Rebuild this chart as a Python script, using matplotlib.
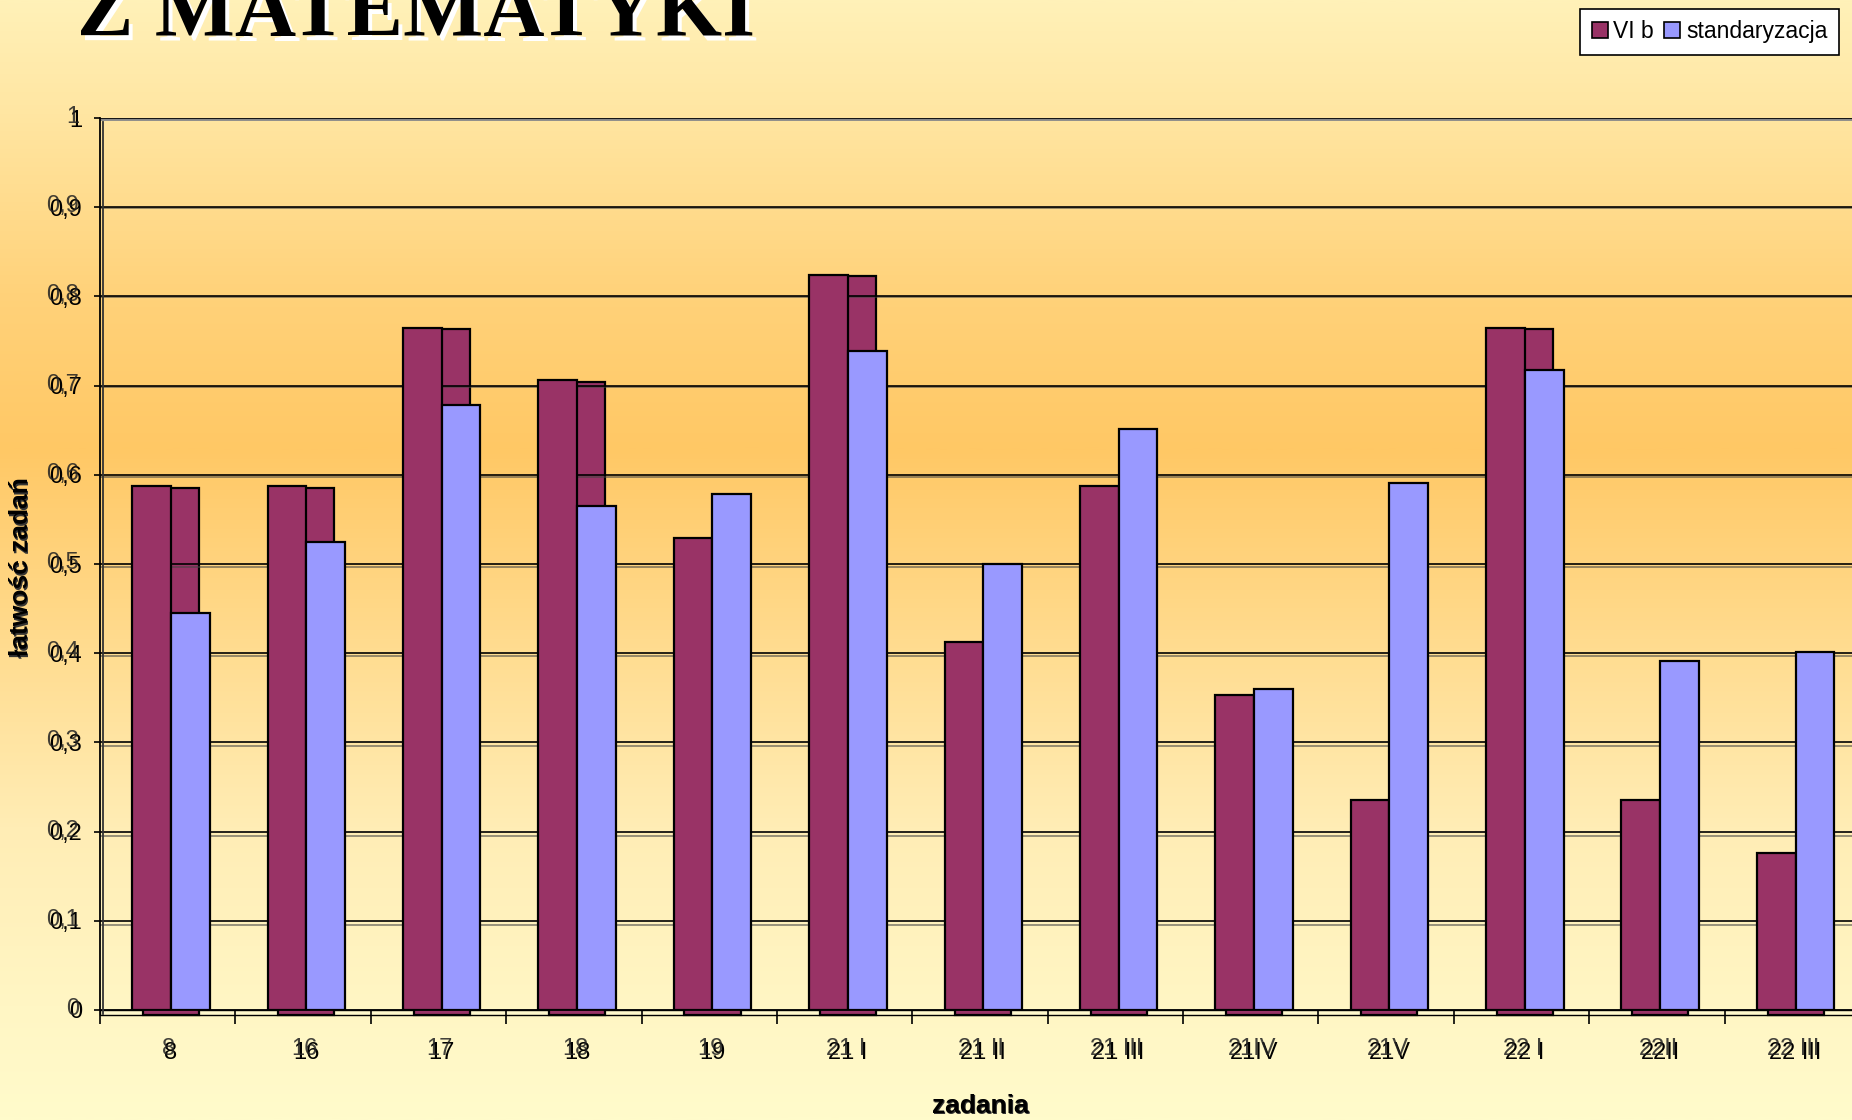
import numpy as np
import matplotlib
matplotlib.use("Agg")
import matplotlib.pyplot as plt
from matplotlib import font_manager as fm
from matplotlib.patches import Patch, Rectangle
import matplotlib.transforms as mtransforms
from matplotlib.colors import LinearSegmentedColormap

# ---------------- data ----------------
categories = ['8', '16', '17', '18', '19', '21 I', '21 II', '21 III',
              '21IV', '21V', '22 I', '22II', '22 III']
vi_b = [0.588, 0.588, 0.765, 0.706, 0.529, 0.824, 0.412, 0.588,
        0.353, 0.235, 0.765, 0.235, 0.176]
standaryzacja = [0.445, 0.525, 0.678, 0.565, 0.578, 0.739, 0.500, 0.651,
                 0.360, 0.591, 0.718, 0.391, 0.401]
series_names = ['VI b', 'standaryzacja']
yticks = [0, 0.1, 0.2, 0.3, 0.4, 0.5, 0.6, 0.7, 0.8, 0.9, 1.0]
ytick_labels = ['0', '0,1', '0,2', '0,3', '0,4', '0,5', '0,6', '0,7',
                '0,8', '0,9', '1']
title = 'Z MATEMATYKI'
ylabel = 'łatwość zadań'
xlabel = 'zadania'

# ---------------- style ----------------
MAROON = '#993366'
BLUE = '#9999FF'
names = {f.name for f in fm.fontManager.ttflist}
NARROW = 'Liberation Sans Narrow' if 'Liberation Sans Narrow' in names else 'Liberation Sans'
TICK_FS = 19 if NARROW == 'Liberation Sans Narrow' else 17

W, H, DPI = 1852, 1120, 100
fig = plt.figure(figsize=(W / DPI, H / DPI), dpi=DPI)

# background gradient
bg = fig.add_axes([0, 0, 1, 1], zorder=-10)
bg.axis('off')
cmap = LinearSegmentedColormap.from_list('bg', [
    (0.00, '#FFF1B8'), (0.10, '#FFE6A2'), (0.26, '#FFD27A'),
    (0.40, '#FFC865'), (0.58, '#FFDC90'), (0.74, '#FFEDB5'),
    (0.90, '#FFF6C4'), (1.00, '#FFFBCB')])
grad = np.linspace(0, 1, 512).reshape(-1, 1)
bg.imshow(grad, aspect='auto', cmap=cmap, extent=[0, 1, 0, 1], origin='upper')
bg.set_xlim(0, 1)
bg.set_ylim(0, 1)

# main axes
L, R, T, B = 100, 1860, 118, 1010
ax = fig.add_axes([L / W, (H - B) / H, (R - L) / W, (B - T) / H])
ax.set_facecolor('none')
ax.set_xlim(-0.5, len(categories) - 0.5)
ax.set_ylim(0, 1)

x = np.arange(len(categories))
shift = 0.024
bw = 0.286

# ghost (second, slightly offset copy of the chart)
def gfun(v):
    return (v * 897 - 5) / 892

g0 = gfun(0)
ax.add_patch(Rectangle((-0.5, g0), len(categories), -g0, facecolor='#FFF8CC',
                       edgecolor='black', lw=1.0, zorder=0.9, clip_on=False))
ax.bar(x + shift, [gfun(v) - g0 for v in vi_b], bottom=g0, width=0.414,
       color=MAROON, edgecolor='black', lw=1.6, zorder=1, clip_on=False)

# gridlines
for v in yticks[1:]:
    ax.axhline(gfun(v), color='#444444', lw=1.4, alpha=0.55, zorder=1.4)
    ax.axhline(v, color='black', lw=1.2, zorder=1.5)
ax.axhline(1.0, color='#8a8a8a', lw=3.5, zorder=1.45)

# main bars
ax.bar(x + shift - bw / 2, vi_b, width=bw, color=MAROON, edgecolor='black',
       lw=1.6, zorder=3, label=series_names[0])
ax.bar(x + shift + bw / 2, standaryzacja, width=bw, color=BLUE, edgecolor='black',
       lw=1.6, zorder=3, label=series_names[1])

# spines
for s in ['top', 'right']:
    ax.spines[s].set_visible(False)
ax.spines['left'].set_linewidth(1.3)
ax.spines['bottom'].set_linewidth(1.3)
ax.spines['left'].set_zorder(4)
ghost_tr = mtransforms.offset_copy(ax.transAxes, fig=fig, x=3, y=-4, units='dots')
ax.plot([0, 0], [0, 1], transform=ghost_tr, color='#333333', lw=1.3, clip_on=False, zorder=4)

# y ticks
ax.set_yticks(yticks)
ax.set_yticklabels(ytick_labels, fontfamily=NARROW, fontsize=TICK_FS)
ax.tick_params(axis='y', direction='out', length=4.5, width=1.2, pad=8.5)
ytr = mtransforms.blended_transform_factory(ax.transAxes, ax.transData)
for v, lab in zip(yticks, ytick_labels):
    t = mtransforms.offset_copy(ytr, fig=fig, x=-(6 + 12 + 3), y=1, units='dots')
    ax.text(0, v, lab, transform=t, ha='right', va='center',
            fontfamily=NARROW, fontsize=TICK_FS, color='#222222', alpha=0.85)

# x ticks (boundaries) + labels (centres)
ax.set_xticks(np.arange(-0.5, len(categories), 1))
ax.set_xticklabels([])
ax.tick_params(axis='x', which='major', direction='out', length=10, width=1.2)
ax.set_xticks(x + shift, minor=True)
ax.set_xticklabels(categories, minor=True, fontfamily=NARROW, fontsize=TICK_FS)
ax.tick_params(axis='x', which='minor', length=0, pad=23)
xtr = mtransforms.blended_transform_factory(ax.transData, ax.transAxes)
for xi, lab in zip(x + shift, categories):
    t = mtransforms.offset_copy(xtr, fig=fig, x=-2, y=-(23 * DPI / 72) + 4, units='dots')
    ax.text(xi, 0, lab, transform=t, ha='center', va='top',
            fontfamily=NARROW, fontsize=TICK_FS, color='#222222', alpha=0.85)

# axis titles (doubled)
for dx, dy, c in [(1.5, -1.5, '#333333'), (0, 0, 'black')]:
    fig.text(21 / W + dx / W, 1 - 567 / H + dy / H, ylabel, rotation=90,
             ha='center', va='center', fontfamily=NARROW, fontsize=19,
             fontweight='bold', color=c)
    fig.text(980 / W + dx / W, 1 - 1106 / H + dy / H, xlabel,
             ha='center', va='center', fontfamily=NARROW, fontsize=19,
             fontweight='bold', color=c)

# title with white shadow
fig.text(77 / W + 4 / W, 1 - 36 / H - 5 / H, title, fontfamily='Liberation Serif',
         fontweight='bold', fontsize=61, color='white', va='baseline', ha='left')
fig.text(77 / W, 1 - 36 / H, title, fontfamily='Liberation Serif',
         fontweight='bold', fontsize=61, color='black', va='baseline', ha='left')

# legend
handles = [Patch(facecolor=MAROON, edgecolor='black', lw=1.2),
           Patch(facecolor=BLUE, edgecolor='black', lw=1.2)]
leg = fig.legend(handles, series_names, loc='upper right',
                 bbox_to_anchor=(1839 / W, 1 - 9 / H), ncol=2, frameon=True,
                 fancybox=False, framealpha=1, edgecolor='black',
                 prop={'family': 'Liberation Sans', 'size': 16.5},
                 handlelength=0.7, handleheight=0.7, columnspacing=0.45,
                 handletextpad=0.25, borderpad=0.5, borderaxespad=0)
leg.get_frame().set_linewidth(1.2)

fig.savefig('out.png', dpi=DPI)
